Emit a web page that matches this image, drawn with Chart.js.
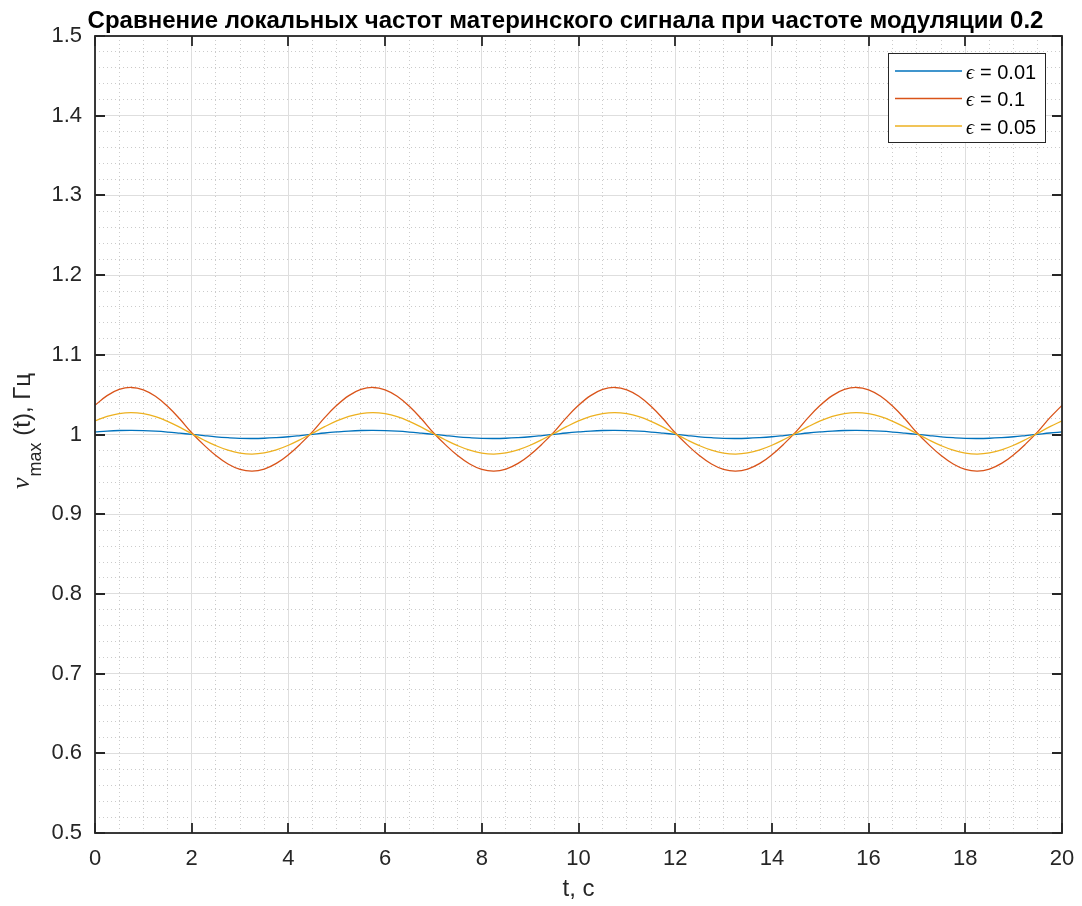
<!DOCTYPE html>
<html>
<head>
<meta charset="utf-8">
<script src="https://cdn.jsdelivr.net/npm/chart.js@4.4.0/dist/chart.umd.min.js"></script>
<style>
html,body{margin:0;padding:0;background:#ffffff;}
canvas{display:block;}
</style>
</head>
<body>
<canvas id="chart" width="1082" height="906"></canvas>
<script>
// ---- data ----
const chartTitle = 'Сравнение локальных частот материнского сигнала при частоте модуляции 0.2';
const xAxisTitle = 't, с';
const seriesLabels = ['0.01', '0.1', '0.05'];
const seriesColors = ['#0072BD', '#D95319', '#EDB120'];

const timeS = [
  0,0.25,0.5,0.75,1,1.25,1.5,1.75,2,2.25,2.5,2.75,3,3.25,3.5,3.75,4,4.25,4.5,4.75,
  5,5.25,5.5,5.75,6,6.25,6.5,6.75,7,7.25,7.5,7.75,8,8.25,8.5,8.75,9,9.25,9.5,9.75,
  10,10.25,10.5,10.75,11,11.25,11.5,11.75,12,12.25,12.5,12.75,13,13.25,13.5,13.75,14,14.25,14.5,14.75,
  15,15.25,15.5,15.75,16,16.25,16.5,16.75,17,17.25,17.5,17.75,18,18.25,18.5,18.75,19,19.25,19.5,19.75,
  20
];

const nuEps001 = [
  1.0032,1.0043,1.0050,1.0052,1.0049,1.0042,1.0031,1.0017,1.0002,0.9986,0.9971,0.9960,0.9952,0.9950,0.9953,0.9961,0.9972,0.9987,1.0003,1.0019,
  1.0032,1.0043,1.0050,1.0052,1.0049,1.0042,1.0031,1.0017,1.0002,0.9986,0.9971,0.9960,0.9952,0.9950,0.9953,0.9961,0.9972,0.9987,1.0003,1.0019,
  1.0032,1.0043,1.0050,1.0052,1.0049,1.0042,1.0031,1.0017,1.0002,0.9986,0.9971,0.9960,0.9952,0.9950,0.9953,0.9961,0.9972,0.9987,1.0003,1.0019,
  1.0032,1.0043,1.0050,1.0052,1.0049,1.0042,1.0031,1.0017,1.0002,0.9986,0.9971,0.9960,0.9952,0.9950,0.9953,0.9961,0.9972,0.9987,1.0003,1.0019,
  1.0032
];

const nuEps01 = [
  1.0366,1.0488,1.0565,1.0590,1.0561,1.0480,1.0354,1.0197,1.0022,0.9870,0.9736,0.9630,0.9562,0.9540,0.9566,0.9637,0.9746,0.9882,1.0036,1.0211,
  1.0366,1.0488,1.0565,1.0590,1.0561,1.0480,1.0354,1.0197,1.0022,0.9870,0.9736,0.9630,0.9562,0.9540,0.9566,0.9637,0.9746,0.9882,1.0036,1.0211,
  1.0366,1.0488,1.0565,1.0590,1.0561,1.0480,1.0354,1.0197,1.0022,0.9870,0.9736,0.9630,0.9562,0.9540,0.9566,0.9637,0.9746,0.9882,1.0036,1.0211,
  1.0366,1.0488,1.0565,1.0590,1.0561,1.0480,1.0354,1.0197,1.0022,0.9870,0.9736,0.9630,0.9562,0.9540,0.9566,0.9637,0.9746,0.9882,1.0036,1.0211,
  1.0366
];

const nuEps005 = [
  1.0171,1.0228,1.0263,1.0275,1.0261,1.0224,1.0165,1.0092,1.0010,0.9931,0.9860,0.9803,0.9767,0.9755,0.9769,0.9807,0.9865,0.9937,1.0017,1.0098,
  1.0171,1.0228,1.0263,1.0275,1.0261,1.0224,1.0165,1.0092,1.0010,0.9931,0.9860,0.9803,0.9767,0.9755,0.9769,0.9807,0.9865,0.9937,1.0017,1.0098,
  1.0171,1.0228,1.0263,1.0275,1.0261,1.0224,1.0165,1.0092,1.0010,0.9931,0.9860,0.9803,0.9767,0.9755,0.9769,0.9807,0.9865,0.9937,1.0017,1.0098,
  1.0171,1.0228,1.0263,1.0275,1.0261,1.0224,1.0165,1.0092,1.0010,0.9931,0.9860,0.9803,0.9767,0.9755,0.9769,0.9807,0.9865,0.9937,1.0017,1.0098,
  1.0171
];

const xMin = 0, xMax = 20, xMajorStep = 2, xMinorStep = 0.5;
const yMin = 0.5, yMax = 1.5, yMajorStep = 0.1, yMinorStep = 0.02;

// ---- chart ----
const AXIS_COLOR = '#262626';
const FONT = "'Liberation Sans', Arial, Helvetica, sans-serif";
const SERIF = "'Liberation Serif', 'DejaVu Serif', serif";

function pts(ys) { return timeS.map((t, i) => ({x: t, y: ys[i]})); }

const seriesData = [nuEps001, nuEps01, nuEps005];
const datasets = seriesData.map((ys, i) => ({
  label: '\u03F5 = ' + seriesLabels[i],
  data: pts(ys),
  borderColor: seriesColors[i],
  backgroundColor: seriesColors[i],
  borderWidth: 1.3,
  pointRadius: 0,
  tension: 0.4,
  fill: false,
  order: 3 - i
}));

const fixWidth = w => (s) => { s.width = w; };
const fixHeight = h => (s) => { s.height = h; s.paddingLeft = 0; s.paddingRight = 0; };

const decorPlugin = {
  id: 'decor',
  afterDatasetsDraw(chart) {
    const ctx = chart.ctx;
    const a = chart.chartArea;
    const xs = chart.scales.x, ys = chart.scales.y;
    ctx.save();
    // axes box
    ctx.strokeStyle = AXIS_COLOR;
    ctx.lineWidth = 1.8;
    ctx.strokeRect(a.left, a.top, a.right - a.left, a.bottom - a.top);
    // inner ticks
    const tl = 10;
    ctx.beginPath();
    xs.ticks.forEach(t => {
      const px = Math.round(xs.getPixelForValue(t.value));
      ctx.moveTo(px, a.bottom); ctx.lineTo(px, a.bottom - tl);
      ctx.moveTo(px, a.top); ctx.lineTo(px, a.top + tl);
    });
    ys.ticks.forEach(t => {
      const py = Math.round(ys.getPixelForValue(t.value));
      ctx.moveTo(a.left, py); ctx.lineTo(a.left + tl, py);
      ctx.moveTo(a.right, py); ctx.lineTo(a.right - tl, py);
    });
    ctx.stroke();

    // title
    ctx.fillStyle = '#000000';
    ctx.textAlign = 'center';
    ctx.textBaseline = 'alphabetic';
    ctx.font = 'bold 24px ' + FONT;
    ctx.fillText(chartTitle, 565.5, 28);

    // legend
    const lx = 888, ly = 53, lw = 157, lh = 89;
    ctx.fillStyle = '#ffffff';
    ctx.fillRect(lx, ly, lw, lh);
    ctx.strokeStyle = '#262626';
    ctx.lineWidth = 1;
    ctx.strokeRect(lx + 0.5, ly + 0.5, lw, lh);
    const rowY = [71, 98.5, 126];
    chart.data.datasets.forEach((ds, i) => {
      const y = rowY[i];
      ctx.strokeStyle = ds.borderColor;
      ctx.lineWidth = 1.3;
      ctx.beginPath(); ctx.moveTo(895, y); ctx.lineTo(962, y); ctx.stroke();
      ctx.fillStyle = '#000000';
      ctx.textBaseline = 'alphabetic';
      ctx.textAlign = 'left';
      ctx.font = 'italic 20px ' + SERIF;
      ctx.fillText('\u03F5', 966, y + 7.5);
      ctx.font = '20px ' + FONT;
      ctx.fillText('= ' + seriesLabels[i], 980, y + 7.5);
    });

    // y-axis title with subscript
    const big = '24px ' + FONT, nuFont = 'italic 26px ' + SERIF, sub = '18px ' + FONT;
    ctx.font = nuFont; const w1 = ctx.measureText('\u03BD').width + 1;
    ctx.font = sub; const w2 = ctx.measureText('max').width;
    ctx.font = big; const w3 = ctx.measureText(' (t), Гц').width;
    const total = w1 + w2 + w3;
    const cy = 431, bx = 30;
    ctx.translate(bx, cy + total / 2);
    ctx.rotate(-Math.PI / 2);
    ctx.fillStyle = AXIS_COLOR;
    ctx.textAlign = 'left';
    ctx.textBaseline = 'alphabetic';
    ctx.font = nuFont; ctx.fillText('\u03BD', 0, -1);
    ctx.font = sub; ctx.fillText('max', w1, 11);
    ctx.font = big; ctx.fillText(' (t), Гц', w1 + w2, 0);
    ctx.restore();
  }
};

new Chart(document.getElementById('chart'), {
  type: 'line',
  data: { datasets },
  options: {
    responsive: false,
    devicePixelRatio: 1,
    animation: false,
    layout: { padding: { left: 0, right: 20, top: 36, bottom: 0 } },
    plugins: {
      legend: { display: false },
      tooltip: { enabled: false },
      title: { display: false }
    },
    scales: {
      xMinor: {
        type: 'linear', position: 'bottom', min: xMin, max: xMax,
        ticks: { display: false, stepSize: xMinorStep, maxTicksLimit: 1000 },
        grid: { color: '#cbcbcb', lineWidth: 1, drawTicks: false },
        border: { display: false, dash: [1, 3] },
        afterFit: fixHeight(0)
      },
      yMinor: {
        type: 'linear', position: 'left', min: yMin, max: yMax,
        ticks: { display: false, stepSize: yMinorStep, maxTicksLimit: 1000 },
        grid: { color: '#cbcbcb', lineWidth: 1, drawTicks: false },
        border: { display: false, dash: [1, 3] },
        afterFit: fixWidth(0)
      },
      x: {
        type: 'linear', position: 'bottom', min: xMin, max: xMax,
        ticks: { stepSize: xMajorStep, autoSkip: false, maxRotation: 0, padding: 13, color: AXIS_COLOR,
                 font: { family: FONT, size: 22 } },
        grid: { color: '#dedede', lineWidth: 1, drawTicks: false },
        border: { display: false },
        title: { display: true, text: xAxisTitle, color: AXIS_COLOR, font: { family: FONT, size: 24 },
                 padding: { top: 0, bottom: 2 } },
        afterFit: fixHeight(73)
      },
      y: {
        type: 'linear', position: 'left', min: yMin, max: yMax,
        ticks: { stepSize: yMajorStep, autoSkip: false, padding: 13, color: AXIS_COLOR,
                 font: { family: FONT, size: 22 },
                 callback: v => String(Number(v.toFixed(2))) },
        grid: { color: '#dedede', lineWidth: 1, drawTicks: false },
        border: { display: false },
        afterFit: fixWidth(95)
      }
    }
  },
  plugins: [decorPlugin]
});
</script>
</body>
</html>
